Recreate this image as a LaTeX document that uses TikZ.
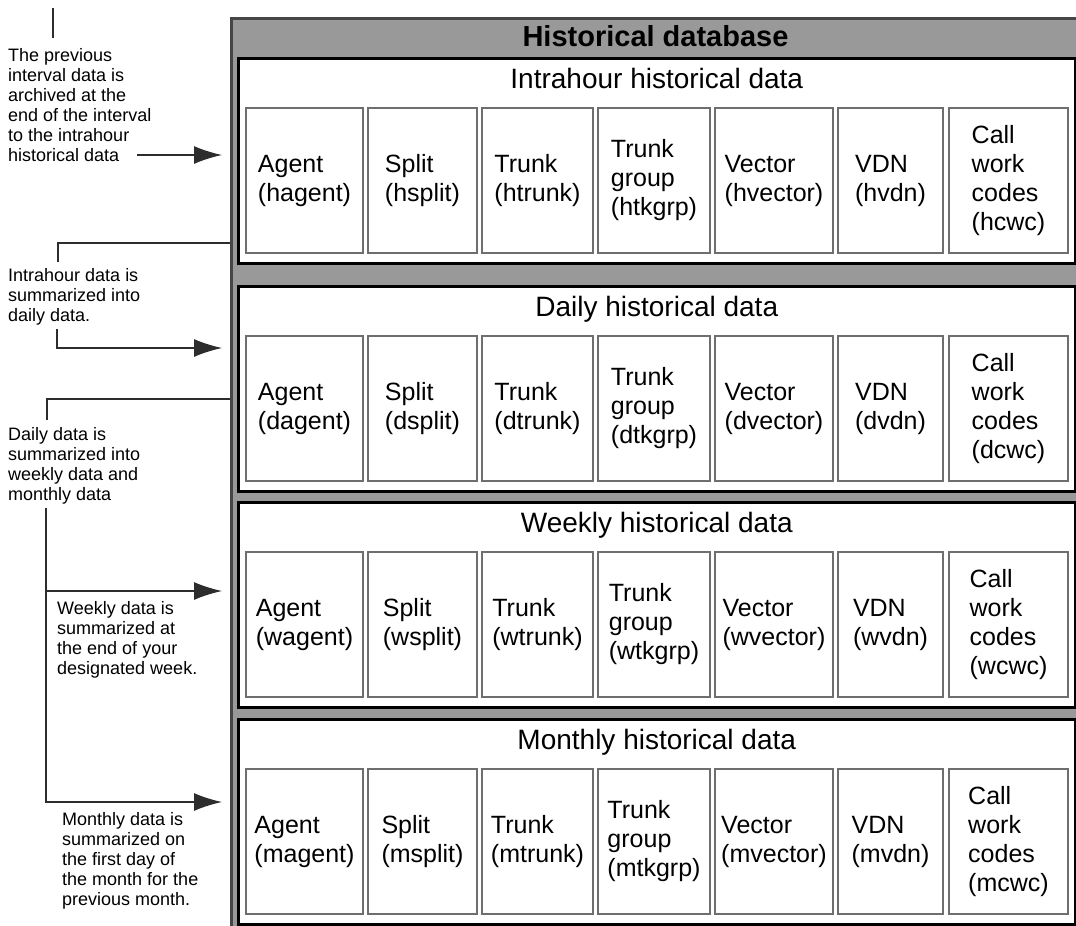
\documentclass[tikz,border=0pt]{standalone}
\usepackage{fontspec}
\setmainfont{Liberation Sans}
\usetikzlibrary{arrows.meta,positioning}

\definecolor{dbgray}{RGB}{153,153,153}
\definecolor{dbedge}{RGB}{70,70,70}
\definecolor{cellgray}{RGB}{110,110,110}
\definecolor{linegray}{RGB}{45,45,45}

\begin{document}
\begin{tikzpicture}[
  x=1pt,
  y=-1pt,
  db/.style={
    draw=dbedge,
    fill=dbgray,
    line width=2.5pt,
    inner sep=0pt
  },
  dbtitle/.style={
    inner sep=0pt,
    font=\bfseries\fontsize{29}{33}\selectfont
  },
  panel/.style={
    draw=black,
    fill=white,
    line width=2.5pt,
    minimum width=837pt,
    minimum height=205pt,
    inner sep=0pt
  },
  paneltitle/.style={
    inner sep=0pt,
    font=\fontsize{28}{32}\selectfont
  },
  cell/.style={
    draw=cellgray,
    fill=white,
    line width=1.3pt,
    minimum height=145pt,
    inner sep=0pt,
    align=left,
    font=\fontsize{25}{29}\selectfont
  },
  note/.style={
    anchor=north west,
    inner sep=0pt,
    align=left,
    font=\fontsize{18}{20}\selectfont
  },
  link/.style={
    draw=linegray,
    line width=1.4pt
  },
  >={Latex[length=28pt,width=18pt]}
]

\useasboundingbox (0,0) rectangle (1076,926);

% Database
\node[db, minimum width=854pt, minimum height=917pt, anchor=north west] (db) at (230,17) {};
\node[dbtitle, anchor=base] (dbname) at (655.5,46) {Historical database};

% Panels and tables
\foreach \p/\top/\ttl in {h/57/Intrahour, d/285/Daily, w/501/Weekly, m/718/Monthly} {
  \node[panel, anchor=north west] (\p-panel) at (237,\top) {};
  \node[paneltitle, anchor=base] (\p-title) at ([yshift=-31pt]\p-panel.north) {\ttl{} historical data};
  \foreach \c/\xl/\xr/\txt in {
    agent/246/363/{Agent\\(\p agent)},
    split/368/477/{Split\\(\p split)},
    trunk/482/593/{Trunk\\(\p trunk)},
    tkgrp/598/710/{Trunk\\group\\(\p tkgrp)},
    vector/715/833/{Vector\\(\p vector)},
    vdn/838/943/{VDN\\(\p vdn)},
    cwc/949/1068/{Call\\work\\codes\\(\p cwc)}} {
    \node[cell, minimum width={\xr-\xl}] (\p-\c) at ({(\xl+\xr)/2},{\top+123.5}) {\txt};
  }
}

% Notes
\node[note] (note1) at (8,48) {The previous\\interval data is\\archived at the\\end of the interval\\to the intrahour\\historical data};
\node[note] (note2) at (8,268) {Intrahour data is\\summarized into\\daily data.};
\node[note] (note3) at (8,427) {Daily data is\\summarized into\\weekly data and\\monthly data};
\node[note] (note4) at (57,601) {Weekly data is\\summarized at\\the end of your\\designated week.};
\node[note] (note5) at (62,812) {Monthly data is\\summarized on\\the first day of\\the month for the\\previous month.};

\coordinate (feed) at (53,8);
\coordinate (a1) at (137,155);
\coordinate (tip) at (222,0);

% Arrow 1
\draw[link] (feed) -- ([yshift=10pt]note1.north west -| feed);
\draw[link,->] (a1) -- (a1 -| tip);

% Arrow 2
\draw[link] (db.west |- 0,243) -| ([xshift=50pt,yshift=6pt]note2.north west);
\draw[link,->] ([xshift=49pt,yshift=-4pt]note2.south west) |- (tip |- 0,348);

% Arrows 3
\draw[link] (db.west |- 0,399) -| ([xshift=39pt,yshift=7pt]note3.north west);
\draw[link,->] ([xshift=38pt,yshift=-4pt]note3.south west) |- (tip |- 0,802);
\draw[link,->] ([xshift=38pt]note3.south west |- 0,591) -- (tip |- 0,591);

\end{tikzpicture}
\end{document}
